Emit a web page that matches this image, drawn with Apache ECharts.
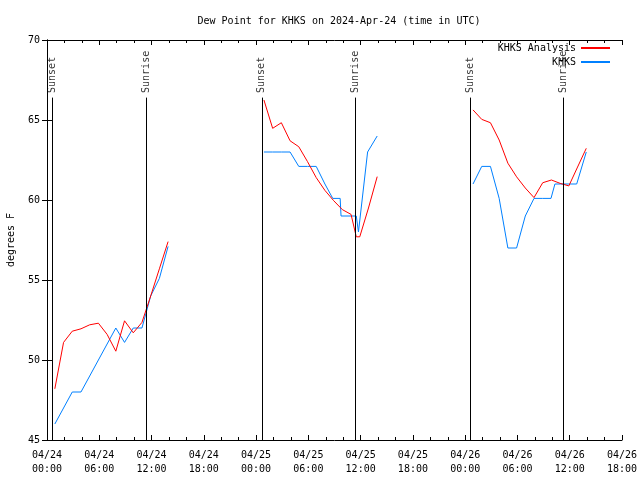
<!DOCTYPE html>
<html>
<head>
<meta charset="utf-8">
<script src="https://cdn.jsdelivr.net/npm/echarts@6/dist/echarts.min.js"></script>
<style>html,body{margin:0;padding:0;background:#fff}#c{width:640px;height:480px}</style>
</head>
<body>
<div id="c"></div>
<script>
// hours since 2024-04-24 00:00 UTC
const xTickLabels = ['04/24\n00:00','04/24\n06:00','04/24\n12:00','04/24\n18:00','04/25\n00:00','04/25\n06:00','04/25\n12:00','04/25\n18:00','04/26\n00:00','04/26\n06:00','04/26\n12:00','04/26\n18:00'];
const yTicks = [45, 50, 55, 60, 65, 70];

const analysisTimes = [
  [0.9,1.9,2.9,3.9,4.9,5.9,6.9,7.9,8.9,9.9,10.9,11.9,12.9,13.9],
  [24.9,25.9,26.9,27.9,28.9,29.9,30.9,31.9,32.9,33.9,34.9,35.5,35.9,36.9,37.9],
  [48.9,49.9,50.9,51.9,52.9,53.9,54.9,55.9,56.9,57.9,58.9,59.9,60.9,61.9]
];
const analysisValues = [
  [48.2,51.1,51.8,51.95,52.2,52.3,51.6,50.55,52.45,51.7,52.35,54.0,55.7,57.4],
  [66.25,64.48,64.83,63.7,63.33,62.4,61.4,60.6,59.96,59.4,59.1,57.7,57.7,59.5,61.46],
  [65.63,65.04,64.83,63.75,62.3,61.45,60.75,60.15,61.08,61.25,61.04,60.88,62.06,63.23]
];
const obsTimes = [
  [0.9,1.9,2.9,3.9,4.9,5.9,6.9,7.9,8.9,9.9,10.9,11.9,12.9,13.9],
  [24.9,25.9,26.9,27.9,28.9,29.9,30.9,31.9,32.8,33.65,33.75,34.9,35.5,35.75,36.8,37.9],
  [48.9,49.9,50.9,51.9,52.9,53.9,54.9,55.9,56.9,57.85,58.3,58.9,59.9,60.8,61.9]
];
const obsValues = [
  [46.0,47.0,48.0,48.0,49.0,50.0,51.0,52.0,51.1,52.0,52.0,54.0,55.1,57.1],
  [63.0,63.0,63.0,63.0,62.1,62.1,62.1,61.0,60.1,60.1,59.0,59.0,59.0,58.0,63.0,64.0],
  [61.0,62.1,62.1,60.1,57.0,57.0,59.0,60.1,60.1,60.1,61.0,61.0,61.0,61.0,63.0]
];
const sunTimes = [0.6, 11.4, 24.65, 35.35, 48.55, 59.3];
const sunNames = ['Sunset','Sunrise','Sunset','Sunrise','Sunset','Sunrise'];

const FONT = 'DejaVu Sans Mono';
const chart = echarts.init(document.getElementById('c'), null, {renderer: 'canvas'});

const series = [];
analysisTimes.forEach((ts, d) => {
  series.push({
    name: 'KHKS Analysis', type: 'line', symbol: 'none', color: '#ff0000',
    lineStyle: {width: 1, color: '#ff0000'}, xAxisIndex: 0, yAxisIndex: 0,
    data: ts.map((t, i) => [t, analysisValues[d][i]]), z: 4, animation: false
  });
});
obsTimes.forEach((ts, d) => {
  series.push({
    name: 'KHKS', type: 'line', symbol: 'none', color: '#0080ff',
    lineStyle: {width: 1, color: '#0080ff'}, xAxisIndex: 0, yAxisIndex: 0,
    data: ts.map((t, i) => [t, obsValues[d][i]]), z: 3, animation: false
  });
});
series.push({
  name: 'sun', type: 'scatter', symbolSize: 0, xAxisIndex: 0, yAxisIndex: 0,
  data: sunTimes.map((t, i) => ({value: [t, 66.69], name: sunNames[i]})),
  label: {show: true, formatter: p => p.name, position: 'inside', align: 'left', verticalAlign: 'middle',
    rotate: 90, color: '#000', fontFamily: FONT, fontSize: 10},
  markLine: {
    silent: true, symbol: 'none', label: {show: false}, animation: false,
    lineStyle: {color: '#000', width: 1, type: 'solid'},
    data: sunTimes.map(t => [{coord: [t, 45]}, {coord: [t, 66.4]}])
  },
  z: 2, animation: false
});

const xLabelFmt = v => xTickLabels[Math.round(v / 6)] || '';
const axisCommon = {
  axisLine: {show: true, lineStyle: {color: '#000', width: 1}},
  splitLine: {show: false}
};

chart.setOption({
  animation: false,
  backgroundColor: '#fff',
  textStyle: {fontFamily: FONT, fontSize: 10, color: '#000'},
  title: {text: 'Dew Point for KHKS on 2024-Apr-24 (time in UTC)', left: 334, top: 11, textAlign: 'center',
    textStyle: {fontFamily: FONT, fontSize: 10, fontWeight: 'normal', color: '#000'}},
  legend: [
    {data: ['KHKS Analysis'], right: 30, top: 43, padding: 0, align: 'right', itemWidth: 29, itemHeight: 2, icon: 'rect',
      itemGap: 0, textStyle: {fontFamily: FONT, fontSize: 10, color: '#000'}, selectedMode: false},
    {data: ['KHKS'], right: 30, top: 57, padding: 0, align: 'right', itemWidth: 29, itemHeight: 2, icon: 'rect',
      itemGap: 0, textStyle: {fontFamily: FONT, fontSize: 10, color: '#000'}, selectedMode: false}
  ],
  grid: {left: 47, right: 18, top: 40, bottom: 40, containLabel: false, outerBoundsMode: 'none'},
  xAxis: [
    Object.assign({type: 'value', min: 0, max: 66, interval: 6, position: 'bottom',
      axisTick: {show: true, inside: true, length: 5, lineStyle: {color: '#000'}},
      minorTick: {show: true, splitNumber: 3, length: 3, lineStyle: {color: '#000'}},
      axisLabel: {formatter: xLabelFmt, color: '#000', fontFamily: FONT, fontSize: 10, lineHeight: 14, margin: 8}
    }, axisCommon),
    Object.assign({type: 'value', min: 0, max: 66, interval: 6, position: 'top',
      axisTick: {show: true, inside: true, length: 5, lineStyle: {color: '#000'}},
      minorTick: {show: true, splitNumber: 3, length: 3, lineStyle: {color: '#000'}},
      axisLabel: {show: false}
    }, axisCommon)
  ],
  yAxis: [
    Object.assign({type: 'value', min: yTicks[0], max: yTicks[yTicks.length - 1], interval: 5, position: 'left',
      name: 'degrees F', nameLocation: 'middle', nameGap: 31, nameRotate: 90,
      nameTextStyle: {fontFamily: FONT, fontSize: 10, color: '#000'},
      axisTick: {show: true, inside: true, length: 5, lineStyle: {color: '#000'}},
      axisLabel: {color: '#000', fontFamily: FONT, fontSize: 10, margin: 7}
    }, axisCommon),
    Object.assign({type: 'value', min: yTicks[0], max: yTicks[yTicks.length - 1], interval: 5, position: 'right',
      axisTick: {show: true, inside: true, length: 5, lineStyle: {color: '#000'}},
      axisLabel: {show: false}
    }, axisCommon)
  ],
  series: series
});
</script>
</body>
</html>
